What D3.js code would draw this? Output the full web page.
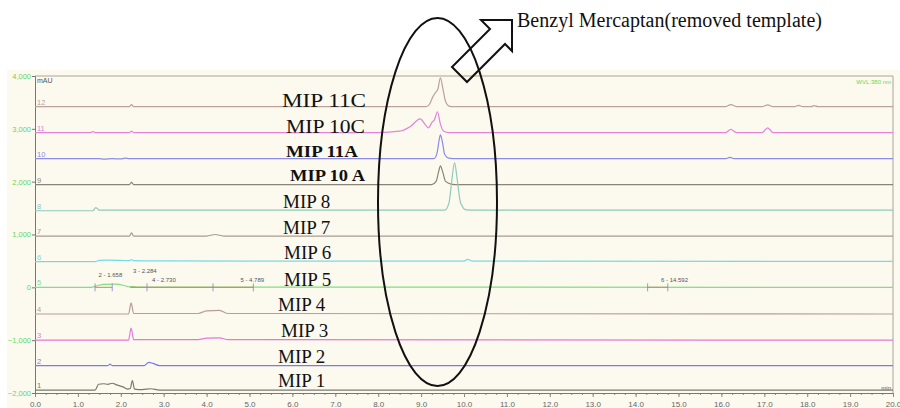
<!DOCTYPE html>
<meta charset="utf-8">
<style>
body { margin: 0; background: #fff; }
svg { display: block; }
.mip { font-family: "Liberation Serif", "Times New Roman", serif; fill: #111; }
.tick-y { font-family: "Liberation Sans", Arial, sans-serif; font-size: 7.5px; fill: #5fd85f; }
.tick-x { font-family: "Liberation Sans Narrow", "Liberation Sans", Arial, sans-serif; font-size: 8px; fill: #666; }
.small { font-family: "Liberation Sans Narrow", "Liberation Sans", Arial, sans-serif; font-size: 6px; fill: #555; }
</style>
<svg width="900" height="408"></svg>
<script src="https://d3js.org/d3.v7.min.js"></script>
<script>

// trace numbers (top to bottom) and sample names
var traceIds = [12, 11, 10, 9, 8, 7, 6, 5, 4, 3, 2, 1];
var sampleNames = ["MIP 11C", "MIP 10C", "MIP 11A", "MIP 10 A", "MIP 8", "MIP 7",
                   "MIP 6", "MIP 5", "MIP 4", "MIP 3", "MIP 2", "MIP 1"];
// stacked offset of each trace, mAU
var baselines = [3420, 2930, 2435, 1945, 1450, 970, 485, 0, -505, -1000, -1480, -1945];

// signal above baseline: [retention time (min), mAU]
var mip11C = [[0,0],[2.2,0],[2.25,40],[2.3,0],[9.12,0],[9.2,50],[9.27,180],[9.33,260],[9.39,330],[9.45,545],[9.51,330],[9.57,100],[9.65,10],[9.75,0],[16.1,0],[16.22,40],[16.35,0],[16.95,0],[17.08,35],[17.2,0],[17.7,0],[17.8,25],[17.9,0],[18.1,0],[18.16,20],[18.25,0],[20,0]];
var mip10C = [[0,0],[1.3,0],[1.35,20],[1.4,0],[2.2,0],[2.25,25],[2.3,0],[8.0,0],[8.5,25],[8.75,115],[8.98,260],[9.08,170],[9.17,90],[9.26,200],[9.31,240],[9.38,393],[9.45,160],[9.52,30],[9.65,0],[16.1,0],[16.22,60],[16.35,0],[16.95,0],[17.08,90],[17.2,0],[20,0]];
var mip11A = [[0,0],[1.5,0],[1.6,-10],[1.8,0],[2.0,-5],[2.1,10],[2.2,0],[9.3,0],[9.37,100],[9.42,350],[9.45,450],[9.5,300],[9.55,80],[9.65,10],[9.8,0],[16.1,0],[16.2,25],[16.3,0],[20,0]];
var mip10A = [[0,0],[2.2,0],[2.25,40],[2.3,0],[9.25,0],[9.35,60],[9.41,250],[9.45,355],[9.5,250],[9.57,60],[9.7,10],[9.85,0],[20,0]];
var mip8 = [[0,0],[1.35,0],[1.42,60],[1.5,10],[9.55,10],[9.65,150],[9.72,600],[9.78,910],[9.84,600],[9.92,150],[10.05,15],[10.3,10],[20,10]];
var mip7 = [[0,0],[2.2,0],[2.25,60],[2.3,0],[4.0,0],[4.2,30],[4.4,0],[20,0]];
var mip6 = [[0,0],[1.4,0],[1.5,25],[1.7,30],[2.2,20],[2.25,40],[2.3,20],[2.8,15],[6,10],[10.0,10],[10.08,45],[10.2,10],[20,5]];
var mip5 = [[0,0],[1.3,0],[1.45,30],[1.6,55],[1.9,60],[2.1,30],[2.2,10],[2.28,15],[2.4,5],[20,0]];
var mip4 = [[0,0],[2.18,0],[2.24,210],[2.3,10],[3.8,10],[4.0,60],[4.3,70],[4.5,10],[20,0]];
var mip3 = [[0,0],[2.18,0],[2.24,230],[2.3,10],[3.8,10],[4.0,40],[4.3,45],[4.5,10],[20,0]];
var mip2 = [[0,0],[1.7,0],[1.75,25],[1.8,0],[2.55,0],[2.65,60],[2.75,40],[2.9,0],[20,0]];
var mip1 = [[0,0],[1.4,0],[1.48,110],[1.6,120],[1.7,110],[1.8,130],[1.9,100],[2.05,60],[2.15,20],[2.22,30],[2.27,180],[2.32,20],[2.5,10],[2.7,25],[2.9,0],[20,0]];
var signals = [mip11C, mip10C, mip11A, mip10A, mip8, mip7, mip6, mip5, mip4, mip3, mip2, mip1];

// peak annotations on trace 5
var peakNames = ["2 - 1.658", "3 - 2.284", "4 - 2.730", "5 - 4.789", "6 - 14.592"];
var peakTimes = [1.483, 2.284, 2.730, 4.789, 14.592];
var integrationBaselines = [[1.40, 1.80], [2.22, 5.09], [14.28, 14.75]];
var delimiterTimes = [1.40, 1.80, 2.61, 4.15, 5.09, 14.28, 14.75];

// axes
var xTicks = [0,1,2,3,4,5,6,7,8,9,10,11,12,13,14,15,16,17,18,19,20];
var yTicks = [-2000, -1000, 0, 1000, 2000, 3000, 4000];

var colors = ["#bba29c", "#e283dc", "#8c8ce6", "#8a8476", "#8fcab9", "#a99c91",
              "#74dbe6", "#7fe07f", "#b89d9a", "#e678d8", "#7b7be8", "#7a7a70"];
var boldLabels = [false, false, true, true, false, false, false, false, false, false, false, false];
var labelX = [282, 286, 286, 290, 283, 283, 284, 284, 278, 281, 278, 278];
var labelW = [84, 79, 72, 75, 0, 0, 0, 0, 0, 0, 0, 0];
var labelDy = [0, 0, -2, -4, -3, -2, -3, -1, -3, -3, -3, -3];

var svg = d3.select("svg");

// cream panel
svg.append("rect").attr("x", 7).attr("y", 70).attr("width", 893).attr("height", 338).attr("fill", "#fcf9ee");

var x = d3.scaleLinear().domain([0, 20]).range([35, 893]);
var y = d3.scaleLinear().domain([-2000, 4000]).range([393, 76]);

// frame
svg.append("path")
  .attr("d", "M" + x(0) + "," + y(4000) + "H" + x(20) + "V" + y(-2000))
  .attr("fill", "none").attr("stroke", "#aaa49a").attr("stroke-width", 1);

// x axis
var xAxis = svg.append("g").attr("transform", "translate(0," + y(-2000) + ")");
xAxis.call(d3.axisBottom(x).tickValues(d3.range(0, 20.01, 0.25)).tickSize(2).tickFormat(""));
xAxis.append("g").call(d3.axisBottom(x).tickValues(xTicks).tickSize(4).tickFormat(d3.format(".1f")));
xAxis.selectAll("path, line").attr("stroke", "#8a8a84");
xAxis.selectAll(".domain").attr("stroke", "#777");
xAxis.selectAll("text").attr("class", "tick-x").attr("fill", null).attr("font-size", null).attr("font-family", null).attr("dy", "0.9em");

// y axis
var yAxis = svg.append("g").attr("transform", "translate(" + x(0) + ",0)");
yAxis.call(d3.axisLeft(y).tickValues(yTicks).tickSize(3).tickFormat(d3.format(",")));
yAxis.selectAll("path, line").attr("stroke", "#777");
yAxis.selectAll("text").attr("class", "tick-y").attr("fill", null).attr("font-size", null).attr("font-family", null).attr("x", -4);

// corner captions
svg.append("text").attr("x", x(0) + 2).attr("y", y(4000) + 7).attr("class", "small").style("font-size", "7px").text("mAU");
svg.append("text").attr("x", x(20) - 2).attr("y", y(4000) + 8).attr("class", "small")
  .attr("text-anchor", "end").style("fill", "#5fd85f").text("WVL:380 nm");
svg.append("text").attr("x", x(20) - 2).attr("y", y(-2000) - 3).attr("class", "small")
  .attr("text-anchor", "end").text("min");

// traces
var line = d3.line()
  .x(function(d) { return x(d[0]); })
  .curve(d3.curveMonotoneX);

signals.forEach(function(s, i) {
  svg.append("path")
    .datum(s)
    .attr("fill", "none")
    .attr("stroke", colors[i])
    .attr("stroke-width", 1.2)
    .attr("d", line.y(function(d) { return y(baselines[i] + d[1]); }));

  svg.append("text")
    .attr("x", x(0) + 2)
    .attr("y", y(baselines[i]) - 2)
    .attr("class", "small")
    .style("font-size", "7.5px")
    .style("fill", colors[i])
    .text(traceIds[i]);

  var t = svg.append("text")
    .attr("x", labelX[i])
    .attr("y", y(baselines[i]) + labelDy[i])
    .attr("class", "mip")
    .style("font-size", boldLabels[i] ? "17px" : "19px")
    .style("font-weight", boldLabels[i] ? "bold" : "normal")
    .text(sampleNames[i]);
  if (labelW[i]) t.attr("textLength", labelW[i]).attr("lengthAdjust", "spacingAndGlyphs");
});

// integration marks on trace 5
var b5 = y(baselines[7]);
integrationBaselines.forEach(function(r) {
  svg.append("line")
    .attr("x1", x(r[0])).attr("x2", x(r[1]))
    .attr("y1", b5).attr("y2", b5)
    .attr("stroke", "#d98a68").attr("stroke-width", 1.1);
});
delimiterTimes.forEach(function(t) {
  svg.append("line")
    .attr("x1", x(t)).attr("x2", x(t))
    .attr("y1", b5 - 4).attr("y2", b5 + 4)
    .attr("stroke", "#8a80c8").attr("stroke-width", 0.8);
});
peakTimes.forEach(function(t, i) {
  svg.append("text")
    .attr("x", x(t))
    .attr("y", b5 + (i === 1 ? -14 : i < 1 ? -10 : -5))
    .attr("class", "small")
    .text(peakNames[i]);
});

// annotation: ellipse round the template peak
svg.append("ellipse")
  .attr("cx", 437.5).attr("cy", 202)
  .attr("rx", 59.5).attr("ry", 184)
  .attr("fill", "none").attr("stroke", "#111").attr("stroke-width", 2);

// hollow block arrow
svg.append("polygon")
  .attr("points", "512,20 481,20 490,29 452,67 467,82 505,44 512,51")
  .attr("fill", "none").attr("stroke", "#111").attr("stroke-width", 2)
  .attr("stroke-linejoin", "miter");

svg.append("text")
  .attr("x", 517).attr("y", 27)
  .attr("class", "mip")
  .style("font-size", "20px")
  .attr("textLength", 305).attr("lengthAdjust", "spacing")
  .text("Benzyl Mercaptan(removed template)");

</script>
